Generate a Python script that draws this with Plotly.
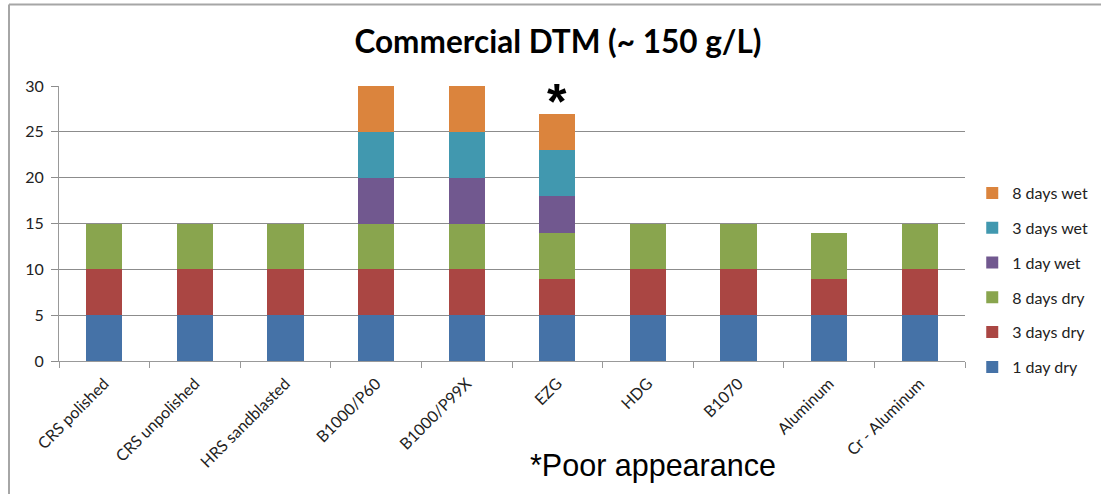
import plotly.graph_objects as go

categories = ["CRS polished", "CRS unpolished", "HRS sandblasted", "B1000/P60",
              "B1000/P99X", "EZG", "HDG", "B1070", "Aluminum", "Cr - Aluminum"]
series_names = ["1 day dry", "3 days dry", "8 days dry", "1 day wet", "3 days wet", "8 days wet"]
day1_dry = [5, 5, 5, 5, 5, 5, 5, 5, 5, 5]
days3_dry = [5, 5, 5, 5, 5, 4, 5, 5, 4, 5]
days8_dry = [5, 5, 5, 5, 5, 5, 5, 5, 5, 5]
day1_wet = [0, 0, 0, 5, 5, 4, 0, 0, 0, 0]
days3_wet = [0, 0, 0, 5, 5, 5, 0, 0, 0, 0]
days8_wet = [0, 0, 0, 5, 5, 4, 0, 0, 0, 0]
y_ticks = [0, 5, 10, 15, 20, 25, 30]
colors = ["#4572A7", "#AA4643", "#89A54E", "#71588F", "#4198AF", "#DB843D"]

series = [day1_dry, days3_dry, days8_dry, day1_wet, days3_wet, days8_wet]
FONT = "Lato"

fig = go.Figure()
n = len(series)
for i, (name, vals, col) in enumerate(zip(series_names, series, colors)):
    fig.add_trace(go.Bar(x=categories, y=vals, name=name, marker_color=col,
                         marker_line_width=0, legendgroup=name, legendrank=n - i))

ezg_total = sum(s[categories.index("EZG")] for s in series)
fig.add_annotation(x="EZG", y=ezg_total, text="<b>*</b>", showarrow=False,
                   yanchor="bottom", yshift=-18, font=dict(size=50, color="black", family="Liberation Sans"))
fig.add_annotation(xref="paper", yref="paper", x=(653 - 59) / 906, y=(361 - 465) / 275,
                   text="*Poor appearance", showarrow=False, xanchor="center", yanchor="middle",
                   font=dict(size=30.5, color="black", family="Liberation Sans"))

# outer chart border (left and top)
bx = (9 - 59) / 906
by = (361 - 4.5) / 275
fig.add_shape(type="line", xref="paper", yref="paper", x0=bx, x1=bx, y0=-1, y1=by,
              line=dict(color="#a6a6a6", width=2))
fig.add_shape(type="line", xref="paper", yref="paper", x0=bx, x1=1.3, y0=by, y1=by,
              line=dict(color="#a6a6a6", width=2))

fig.update_layout(
    barmode="stack",
    bargap=0.6,
    width=1101, height=494,
    margin=dict(l=59, r=136, t=86, b=133, autoexpand=False),
    plot_bgcolor="white", paper_bgcolor="white",
    font=dict(family=FONT, size=16, color="#222222"),
    title=dict(text="<b>Commercial DTM (~ 150 g/L)</b>", x=558 / 1101, xanchor="center",
               y=1 - 42 / 494, yanchor="middle", font=dict(size=31.5, color="black", family=FONT)),
    legend=dict(x=1.008, xanchor="left", y=(361 - 176) / 275, yanchor="top",
                traceorder="grouped", tracegroupgap=11,
                font=dict(size=16, color="#222222", family=FONT), bgcolor="rgba(0,0,0,0)"),
    showlegend=True,
)
fig.update_xaxes(type="category", showgrid=False, showline=True, linecolor="#999999", linewidth=1,
                 ticks="outside", tickson="boundaries", ticklen=6, tickcolor="#999999",
                 tickangle=-45, ticklabelstandoff=6,
                 tickfont=dict(size=16, family=FONT, color="#222222"))
fig.update_yaxes(range=[0, 30], tickvals=y_ticks, showgrid=True, gridcolor="#8c8c8c", gridwidth=1,
                 showline=True, linecolor="#999999", linewidth=1, ticks="outside", ticklen=7,
                 tickcolor="#8c8c8c", ticklabelstandoff=4,
                 tickfont=dict(size=16, family=FONT, color="#222222"),
                 zeroline=False)

fig.write_html("out.html")
